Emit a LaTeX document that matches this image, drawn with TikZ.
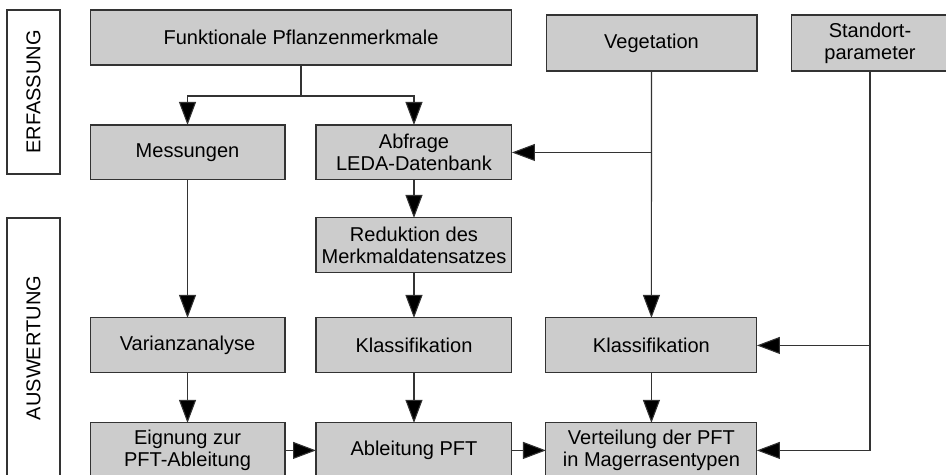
\documentclass[tikz,border=0pt]{standalone}
\usepackage{fontspec}
\setmainfont{Liberation Sans}
\usetikzlibrary{positioning,arrows.meta}
\definecolor{boxgray}{HTML}{CCCCCC}
\definecolor{linegray}{HTML}{333333}
\tikzset{
  box/.style={draw=linegray, fill=boxgray, line width=0.6pt, align=center,
    minimum height=1.1cm, inner sep=1pt, outer sep=0pt,
    font=\fontsize{11.4}{12.6}\selectfont},
  phase/.style={draw=linegray, line width=0.6pt, rotate=90, minimum height=1.06cm,
    inner sep=1pt, outer sep=0pt, font=\fontsize{11.4}{12.6}\selectfont},
  line/.style={draw=linegray, line width=0.6pt},
  arr/.style={line, -{Triangle[length=0.46cm,width=0.34cm,fill=black]}}
}
\begin{document}
\begin{tikzpicture}[x=0.02cm, y=-0.02cm]

            \useasboundingbox (0,0) rectangle (946,475);
            \clip (0,0) rectangle (946,475);

            % phases
            \node[phase, minimum width=3.28cm] (erf) at (33.5,92) {ERFASSUNG};
            \node[phase, minimum width=5.2cm] (ausw) at (33.5,348) {AUSWERTUNG};

            % inputs
            \node[box, minimum width=8.44cm] (funk) at (301,37.5) {Funktionale Pflanzenmerkmale};
            \node[box, minimum width=4.22cm, minimum height=1.12cm] (veg) at (651.5,43) {Vegetation};
            \node[box, minimum width=3.16cm, minimum height=1.12cm] (stand) at (870,43) {Standort-\\parameter};

            \node[box, minimum width=3.9cm, below right=1.2cm and 0cm of funk.south west] (mess) {Messungen};
            \node[box, minimum width=3.92cm, right=0.62cm of mess] (abf) {Abfrage\\LEDA-Datenbank};
            \node[box, minimum width=3.92cm, below=0.76cm of abf] (red) {Reduktion des\\Merkmaldatensatzes};
            \node[box, minimum width=3.92cm, below=0.9cm of red] (kl1) {Klassifikation};
            \node[box, minimum width=3.9cm, left=0.62cm of kl1] (var) {Varianzanalyse};
            \node[box, minimum width=4.22cm, right=0.68cm of kl1] (kl2) {Klassifikation};

            % results
            \node[box, minimum width=3.92cm, below=1cm of kl1] (abl) {Ableitung PFT};
            \node[box, minimum width=3.9cm, left=0.62cm of abl] (eig) {Eignung zur\\PFT-Ableitung};
            \node[box, minimum width=4.22cm, right=0.68cm of abl] (vert) {Verteilung der PFT\\in Magerrasentypen};

            \coordinate (fork) at (301,96);
            \draw[line] (funk.south) -- (fork);
            \draw[arr] (fork) -| (mess.north);
            \draw[arr] (fork) -| (abf.north);

            \draw[arr] (veg) -- (kl2);
            \draw[arr] (veg |- abf) -- (abf.east);

            \draw[arr] (stand.south) |- (vert.east);
            \draw[arr] (stand |- kl2) -- (kl2.east);

            \draw[arr] (mess) -- (var);
            \draw[arr] (abf) -- (red);
            \draw[arr] (red) -- (kl1);
            \draw[arr] (var) -- (eig);
            \draw[arr] (kl1) -- (abl);
            \draw[arr] (kl2) -- (vert);
            \draw[arr] (eig) -- (abl);
            \draw[arr] (abl) -- (vert);

        \end{tikzpicture}
\end{document}
